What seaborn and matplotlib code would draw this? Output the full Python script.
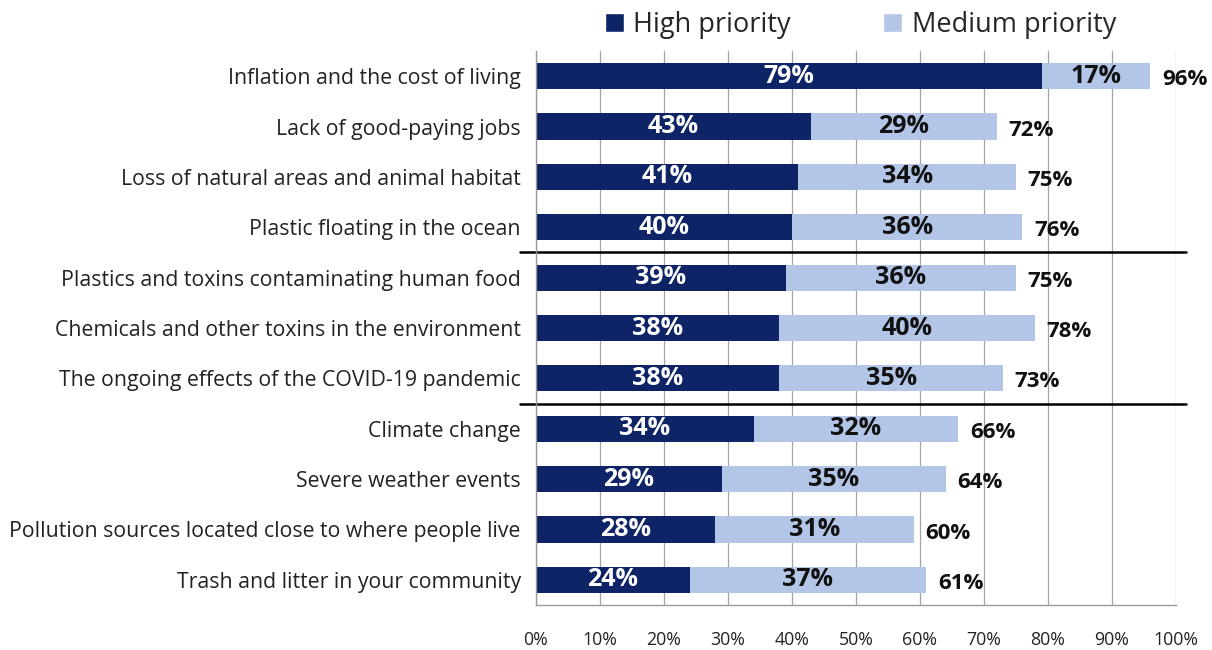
import matplotlib
matplotlib.use("Agg")
import matplotlib.pyplot as plt
from matplotlib.patches import Patch
from matplotlib.lines import Line2D
import seaborn as sns
import pandas as pd

categories = [
    "Inflation and the cost of living",
    "Lack of good-paying jobs",
    "Loss of natural areas and animal habitat",
    "Plastic floating in the ocean",
    "Plastics and toxins contaminating human food",
    "Chemicals and other toxins in the environment",
    "The ongoing effects of the COVID-19 pandemic",
    "Climate change",
    "Severe weather events",
    "Pollution sources located close to where people live",
    "Trash and litter in your community",
]
high = [79, 43, 41, 40, 39, 38, 38, 34, 29, 28, 24]
medium = [17, 29, 34, 36, 36, 40, 35, 32, 35, 31, 37]
total = [96, 72, 75, 76, 75, 78, 73, 66, 64, 60, 61]
group_breaks = [4, 7]  # separator lines drawn after these many rows

HIGH_C = "#0f2466"
MED_C = "#b4c6e7"
FONT = "Open Sans"

sns.set_theme(style="white")
plt.rcParams["font.family"] = [FONT, "DejaVu Sans"]

df = pd.DataFrame({"category": categories, "high": high,
                   "medium": medium, "total": total})
df["stack"] = df["high"] + df["medium"]

fig = plt.figure(figsize=(12.12, 6.5), dpi=100)
ax = fig.add_axes([0.4422, 0.0692, 0.5281, 0.8523])

sns.barplot(data=df, x="stack", y="category", orient="h", color=MED_C,
            width=0.52, saturation=1, linewidth=0, ax=ax)
sns.barplot(data=df, x="high", y="category", orient="h", color=HIGH_C,
            width=0.52, saturation=1, linewidth=0, ax=ax)

ax.set_xlim(0, 100)
ax.set_ylim(len(categories) - 0.5, -0.5)
ax.set_xticks(range(0, 101, 10))
ax.set_xticklabels([f"{v}%" for v in range(0, 101, 10)], fontsize=12.8,
                   color="#222222")
ax.set_yticks(range(len(categories)))
ax.set_yticklabels(categories, fontsize=15.3, color="#222222")
ax.set_xlabel("")
ax.set_ylabel("")
ax.set_yticks([i - 0.5 for i in range(len(categories) + 1)], minor=True)
ax.tick_params(axis="y", which="major", length=0, pad=11)
ax.tick_params(axis="y", which="minor", length=6, color="#888888", width=1,
               direction="out")
ax.tick_params(axis="x", length=6, color="#999999", width=1, direction="out",
               pad=13)

ax.grid(axis="x", color="#a4a4a4", linewidth=0.9)
ax.set_axisbelow(True)
for side in ["top", "right"]:
    ax.spines[side].set_visible(False)
for side in ["left", "bottom"]:
    ax.spines[side].set_color("#999999")
    ax.spines[side].set_linewidth(1)

for i, (h, m, t) in enumerate(zip(high, medium, total)):
    ax.text(h / 2, i, f"{h}%", ha="center", va="center", color="white",
            fontsize=18, fontweight="bold")
    ax.text(h + m / 2, i, f"{m}%", ha="center", va="center", color="#111111",
            fontsize=18, fontweight="bold")
    ax.text(h + m + 1.8, i + 0.07, f"{t}%", ha="left", va="center",
            color="#111111", fontsize=16, fontweight="bold")

# heavy rules separating the three groups of issues
for b in group_breaks:
    ax.add_line(Line2D([-0.025, 1.015], [b - 0.5, b - 0.5], color="black",
                       linewidth=1.8, transform=ax.get_yaxis_transform(),
                       clip_on=False))

handles = [Patch(facecolor=HIGH_C, label="High priority"),
           Patch(facecolor=MED_C, label="Medium priority")]
fig.legend(handles=handles, loc="center", bbox_to_anchor=(0.71, 0.962),
           ncol=2, frameon=False, fontsize=19.5, handlelength=0.7,
           handleheight=0.7, handletextpad=0.35, columnspacing=3.4)

fig.savefig("out.png", dpi=100)
